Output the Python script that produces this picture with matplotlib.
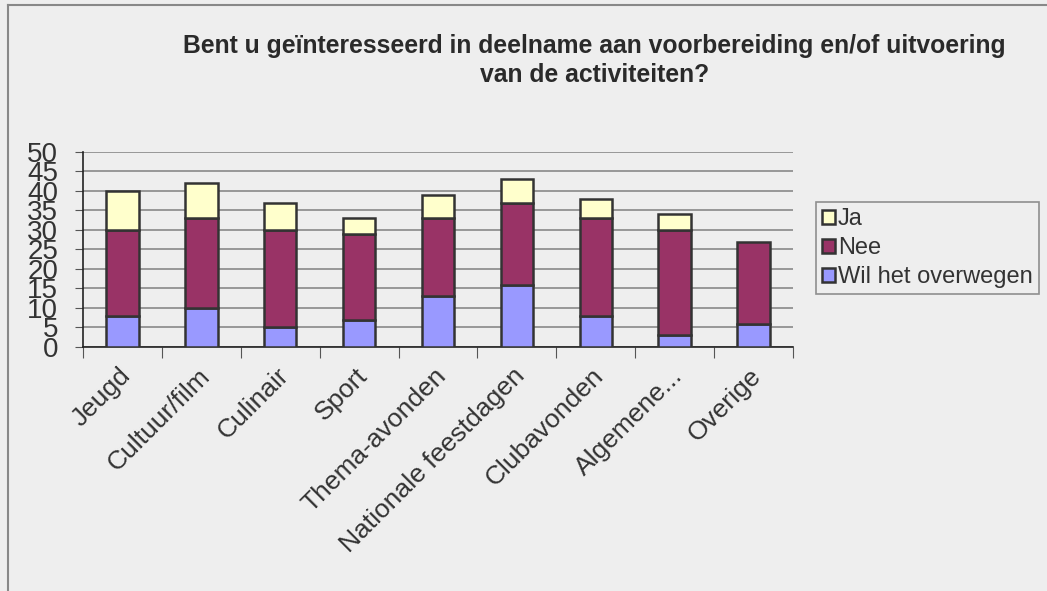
import matplotlib.pyplot as plt
import matplotlib.transforms as mtrans
import numpy as np

plt.rcParams['font.family'] = ['Liberation Sans', 'DejaVu Sans']

# data
categories = ['Jeugd', 'Cultuur/film', 'Culinair', 'Sport', 'Thema-avonden',
              'Nationale feestdagen', 'Clubavonden', 'Algemene...', 'Overige']
wil = [8, 10, 5, 7, 13, 16, 8, 3, 6]
nee = [22, 23, 25, 22, 20, 21, 25, 27, 21]
ja = [10, 9, 7, 4, 6, 6, 5, 4, 0]

bg = '#eeeeee'
fig = plt.figure(figsize=(10.47, 5.91), dpi=100, facecolor=bg)
ax = fig.add_axes([0.0793, 0.4129, 0.678, 0.33])
ax.set_facecolor(bg)

# figure border (top and left visible)
fig.add_artist(plt.Line2D([0.0076, 0.0076], [0, 0.992], transform=fig.transFigure, color='#888888', lw=1.5))
fig.add_artist(plt.Line2D([0.0076, 1], [0.992, 0.992], transform=fig.transFigure, color='#888888', lw=1.5))

x = np.arange(len(categories))
w = 0.41
edge = dict(edgecolor='#333333', linewidth=1.8)
b1 = ax.bar(x, wil, w, color='#9999ff', label='Wil het overwegen', zorder=3, **edge)
b2 = ax.bar(x, nee, w, bottom=wil, color='#993366', label='Nee', zorder=3, **edge)
bottom2 = np.array(wil) + np.array(nee)
ja_arr = np.array(ja)
b3 = ax.bar(x[ja_arr > 0], ja_arr[ja_arr > 0], w, bottom=bottom2[ja_arr > 0],
            color='#ffffcc', label='Ja', zorder=3, **edge)

ax.set_xlim(-0.5, len(categories) - 0.5)
ax.set_ylim(0, 50)
ax.set_yticks(range(0, 51, 5))
ax.tick_params(axis='y', labelsize=20, length=6, color='#555555', labelcolor='#333333', pad=12)
ax.yaxis.grid(True, color='#888888', linewidth=1.2, zorder=0)

# category ticks at the boundaries, labels at the centres
ax.set_xticks(np.arange(len(categories) + 1) - 0.5)
ax.set_xticklabels([])
ax.set_xticks(x, minor=True)
ax.set_xticklabels(categories, minor=True, rotation=45, ha='right',
                   rotation_mode='anchor', fontsize=19, color='#333333')
ax.tick_params(axis='x', which='major', length=8, color='#555555')
ax.tick_params(axis='x', which='minor', length=0, pad=12)
shift = mtrans.ScaledTranslation(-4 / 100, 0, fig.dpi_scale_trans)
for lab in ax.get_xticklabels(minor=True):
    lab.set_transform(lab.get_transform() + shift)

for s in ['top', 'right']:
    ax.spines[s].set_visible(False)
ax.spines['left'].set_color('#222222')
ax.spines['bottom'].set_color('#222222')
ax.spines['left'].set_linewidth(1.2)
ax.spines['bottom'].set_linewidth(1.2)

fig.text(0.568, 0.897, 'Bent u geïnteresseerd in deelname aan voorbereiding en/of uitvoering\nvan de activiteiten?',
         ha='center', va='center', fontsize=17.8, fontweight='bold', color='#2a2a2a',
         linespacing=1.25)

leg = ax.legend(handles=[b3, b2, b1], loc='upper left', bbox_to_anchor=(0.779, 0.658),
                bbox_transform=fig.transFigure, fontsize=17, frameon=True, fancybox=False,
                handlelength=0.55, handleheight=0.55, handletextpad=0.15, borderaxespad=0,
                labelspacing=0.3, borderpad=0.25)
leg.get_frame().set_edgecolor('#777777')
leg.get_frame().set_facecolor(bg)
leg.get_frame().set_linewidth(1.2)
for t in leg.get_texts():
    t.set_color('#333333')

fig.savefig('out.png', dpi=100, facecolor=bg)
